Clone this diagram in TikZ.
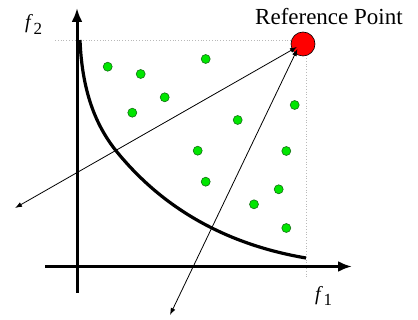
\documentclass[tikz,border=0pt]{standalone}
\usepackage{fontspec}
\setmainfont{Liberation Serif}
\usetikzlibrary{arrows.meta}
\definecolor{dotgreen}{RGB}{0,230,0}
\definecolor{dotedge}{RGB}{20,110,20}
\definecolor{guide}{RGB}{185,185,185}
\begin{document}
\begin{tikzpicture}[x=1pt,y=-1pt,
  axisline/.style={line width=3pt,-{Latex[length=14pt,width=11pt]}},
  front/.style={line width=3.2pt},
  guideline/.style={guide,dotted,line width=0.8pt},
  ray/.style={line width=0.8pt,{Latex[length=7pt,width=5pt]}-{Latex[length=7pt,width=5pt]}},
  sol/.style={circle,fill=dotgreen,draw=dotedge,line width=0.6pt,minimum size=9pt,inner sep=0pt},
  refpt/.style={circle,fill=red,draw=black,line width=0.6pt,minimum size=24pt,inner sep=0pt},
  lab/.style={inner sep=0pt,anchor=base west,font=\fontsize{20}{20}\selectfont}]
\useasboundingbox (0,0) rectangle (418,320);
% guides
\coordinate (gl) at (55,40);
\coordinate (gc) at (303,40);
\coordinate (gv) at (306.5,44);
\coordinate (gb) at (306.5,279);
\draw[guideline] (gl) -- (gc);
\draw[guideline] (gv) -- (gb);
% front
\draw[front] (80,40) .. controls (82,90) and (95,125) .. (117,152)
  .. controls (145,186) and (200,240) .. (306,258);
% axes
\coordinate (yb) at (77,293);
\coordinate (yt) at (77,8);
\coordinate (xl) at (45,266.5);
\coordinate (xr) at (352,266.5);
\draw[axisline] (yb) -- (yt);
\draw[axisline] (xl) -- (xr);
% solutions
\node[sol] (s1) at (107.7,66.7) {};
\node[sol] (s2) at (140.7,74) {};
\node[sol] (s3) at (205.7,59) {};
\node[sol] (s4) at (164.7,97.3) {};
\node[sol] (s5) at (132.3,112.7) {};
\node[sol] (s6) at (237.7,120) {};
\node[sol] (s7) at (294.7,105) {};
\node[sol] (s8) at (197.7,150.7) {};
\node[sol] (s9) at (286.3,151) {};
\node[sol] (s10) at (205.7,181.7) {};
\node[sol] (s11) at (278.7,189.3) {};
\node[sol] (s12) at (254,204.3) {};
\node[sol] (s13) at (286.3,228) {};
% reference point
\node[refpt] (ref) at (303,44) {};
\coordinate (ra) at (297,47);
\coordinate (rb) at (297.5,49);
\coordinate (e1) at (15,208);
\coordinate (e2) at (170,315);
\draw[ray] (ra) -- (e1);
\draw[ray] (rb) -- (e2);
% labels
\node[lab] (lf2) at (25,28.6) {\textit{f}\kern0.5pt\raisebox{-6pt}{\fontsize{17}{17}\selectfont 2}};
\node[lab] (lf1) at (315,300.6) {\textit{f}\kern0.5pt\raisebox{-4.5pt}{\fontsize{17}{17}\selectfont 1}};
\node[lab,font=\fontsize{23}{23}\selectfont] (lref) at (255,25) {Reference Point};
\end{tikzpicture}
\end{document}
